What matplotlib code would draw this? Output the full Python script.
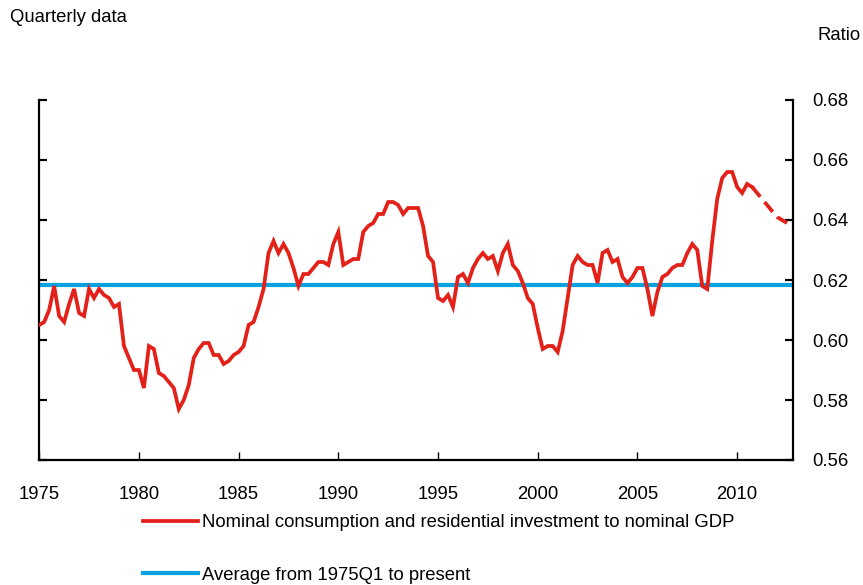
import numpy as np
import matplotlib
matplotlib.use("Agg")
import matplotlib.pyplot as plt

plt.rcParams['font.family'] = ['Liberation Sans', 'DejaVu Sans']

# quarterly ratio, 1975Q1 onward (last part is the dashed projection)
ratio_actual = [
    0.605, 0.606, 0.610, 0.618, 0.608, 0.606, 0.612, 0.617, 0.609, 0.608,
    0.617, 0.614, 0.617, 0.615, 0.614, 0.611, 0.612, 0.598, 0.594, 0.590,
    0.590, 0.584, 0.598, 0.597, 0.589, 0.588, 0.586, 0.584, 0.577, 0.580,
    0.585, 0.594, 0.597, 0.599, 0.599, 0.595, 0.595, 0.592, 0.593, 0.595,
    0.596, 0.598, 0.605, 0.606, 0.611, 0.617, 0.629, 0.633, 0.629, 0.632,
    0.629, 0.624, 0.618, 0.622, 0.622, 0.624, 0.626, 0.626, 0.625, 0.632,
    0.636, 0.625, 0.626, 0.627, 0.627, 0.636, 0.638, 0.639, 0.642, 0.642,
    0.646, 0.646, 0.645, 0.642, 0.644, 0.644, 0.644, 0.638, 0.628, 0.626,
    0.614, 0.613, 0.615, 0.611, 0.621, 0.622, 0.619, 0.624, 0.627, 0.629,
    0.627, 0.628, 0.623, 0.629, 0.632, 0.625, 0.623, 0.619, 0.614, 0.612,
    0.604, 0.597, 0.598, 0.598, 0.596, 0.603, 0.614, 0.625, 0.628, 0.626,
    0.625, 0.625, 0.619, 0.629, 0.630, 0.626, 0.627, 0.621, 0.619, 0.621,
    0.624, 0.624, 0.617, 0.608, 0.616, 0.621, 0.622, 0.624, 0.625, 0.625,
    0.629, 0.632, 0.630, 0.618, 0.617, 0.633, 0.647, 0.654, 0.656, 0.656,
    0.651, 0.649, 0.652, 0.651,
]
ratio_projected = [0.651, 0.649, 0.647, 0.645, 0.643, 0.641, 0.640, 0.639]
average_value = 0.6183

start_year = 1975
x_ticks = [1975, 1980, 1985, 1990, 1995, 2000, 2005, 2010]
y_ticks = [0.56, 0.58, 0.60, 0.62, 0.64, 0.66, 0.68]

red = '#E32119'
blue = '#0AA3E0'
fs = 13.3

t_actual = start_year + np.arange(len(ratio_actual)) / 4
t_proj = start_year + (len(ratio_actual) - 1 + np.arange(len(ratio_projected))) / 4

fig = plt.figure(figsize=(8.63, 5.85), dpi=100)
ax = fig.add_axes([39.2 / 863, 1 - 460 / 585, (793 - 39.2) / 863, 360 / 585])

ax.axhline(average_value, color=blue, lw=3.0, zorder=2,
           label='Average from 1975Q1 to present')
ax.plot(t_actual, ratio_actual, color=red, lw=2.7, zorder=3,
        solid_joinstyle='miter',
        label='Nominal consumption and residential investment to nominal GDP')
ax.plot(t_proj, ratio_projected, color=red, lw=2.7, zorder=3,
        linestyle=(0, (3.4, 1.8)))

ax.set_xlim(1975, 2012.8)
ax.set_ylim(0.56, 0.68)
ax.set_xticks(x_ticks)
ax.set_yticks(y_ticks)
ax.set_yticklabels([f'{v:.2f}' for v in y_ticks])

ax.spines['top'].set_visible(False)
for s in ['left', 'right', 'bottom']:
    ax.spines[s].set_linewidth(1.6)

ax.tick_params(axis='x', direction='in', length=6, width=1, pad=19, labelsize=fs)
ax.tick_params(axis='y', direction='in', length=6, width=1.6, pad=14, labelsize=fs,
               left=True, right=True, labelleft=False, labelright=True)

fig.text(10 / 863, 1 - 17 / 585, 'Quarterly data', fontsize=fs, va='center', ha='left')
fig.text(817 / 863, 1 - 35 / 585, 'Ratio', fontsize=fs, va='center', ha='left')

h, l = ax.get_legend_handles_labels()
fig.legend([h[1], h[0]], [l[1], l[0]], loc='upper left',
           bbox_to_anchor=(143 / 863, 1 - 514 / 585), frameon=False, fontsize=fs,
           borderpad=0, borderaxespad=0, handlelength=3.0, handletextpad=0.22,
           labelspacing=1.93)

fig.savefig('out.png', dpi=100)
